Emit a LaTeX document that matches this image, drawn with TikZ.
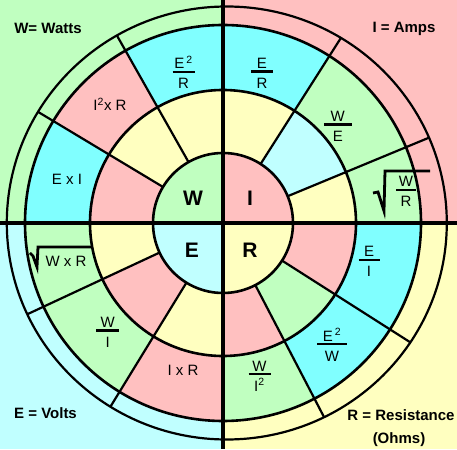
\documentclass[tikz,border=0pt]{standalone}
\usepackage{fontspec}
\setmainfont{Liberation Sans}

\definecolor{wattgreen}{HTML}{C0FFC0}
\definecolor{amppink}{HTML}{FFC0C0}
\definecolor{voltcyan}{HTML}{C0FFFF}
\definecolor{ohmyellow}{HTML}{FFFFC0}
\definecolor{cellcyan}{HTML}{80FFFF}

\tikzset{
  ring/.style={line width=2.6pt},
  spoke/.style={line width=2.2pt},
  axis/.style={line width=3.4pt},
  fracbar/.style={line width=2.6pt},
  radical/.style={line width=2.8pt, line join=miter},
  formula/.style={inner sep=0pt, font=\fontsize{15}{18}\selectfont},
  unitlabel/.style={inner sep=0pt, font=\bfseries\fontsize{15}{18}\selectfont},
  quantity/.style={inner sep=0pt, font=\bfseries\fontsize{21}{25}\selectfont}
}

% name, bar centre, bar width, numerator, denominator
\newcommand{\ohmfrac}[5]{%
  \coordinate (#1) at (#2);
  \draw[fracbar] ([xshift=-#3/2]#1) -- ([xshift=#3/2]#1);
  \node[formula, anchor=base] (#1-num) at ([yshift=3pt]#1) {#4};
  \node[formula, anchor=base] (#1-den) at ([yshift=-17pt]#1) {#5};
}

\begin{document}
\begin{tikzpicture}[x=1pt, y=1pt]
    % quadrant backgrounds
    \fill[wattgreen] (-223,0) rectangle (0,223);
    \fill[amppink] (0,0) rectangle (234,223);
    \fill[voltcyan] (-223,-226) rectangle (0,0);
    \fill[ohmyellow] (0,-226) rectangle (234,0);
    \useasboundingbox (-223,-226) rectangle (234,223);

    % cells of the two rings: from/to/outer colour/middle colour
    \foreach \a/\b/\outer/\mid in {90/119.5/cellcyan/ohmyellow, 119.5/149/amppink/ohmyellow,
        149/180/cellcyan/amppink, 57.5/90/cellcyan/ohmyellow, 22.5/57.5/wattgreen/voltcyan,
        0/22.5/wattgreen/ohmyellow, 180/205/wattgreen/ohmyellow, 205/238.5/wattgreen/amppink,
        238.5/270/amppink/ohmyellow, -90/-62.5/wattgreen/amppink, -62.5/-32.5/cellcyan/wattgreen,
        -32.5/0/cellcyan/amppink} {
      \fill[\outer] (\a:133) arc[start angle=\a, end angle=\b, radius=133]
        -- (\b:198) arc[start angle=\b, end angle=\a, radius=198] -- cycle;
      \fill[\mid] (\a:70) arc[start angle=\a, end angle=\b, radius=70]
        -- (\b:133) arc[start angle=\b, end angle=\a, radius=133] -- cycle;
    }

    % spokes
    \begin{scope}
      \clip (3.8,0) ellipse (220 and 216.5);
      \foreach \a in {119.5,149,57.5,22.5,205,238.5,-32.5,-62.5}
        \draw[spoke] (\a:70) -- (\a:230);
    \end{scope}

    % rings
    \draw[ring] (0,0) circle (70);
    \draw[ring] (0,0) circle (133);
    \draw[ring] (0,0) circle (198);
    \draw[line width=2.2pt] (3.8,0) ellipse (220 and 216.5);

    % axes
    \draw[axis] (-223,0) -- (234,0);
    \draw[axis] (0,223) -- (0,-226);

    % centre letters
    \node[quantity] (w) at (-30,25) {W};
    \node[quantity] (i) at (27,25) {I};
    \node[quantity] (e) at (-31,-27) {E};
    \node[quantity] (r) at (27,-27) {R};

    % corner labels
    \node[unitlabel, anchor=base] (watts) at (-175,189.7) {W= Watts};
    \node[unitlabel, anchor=base] (amps) at (181,190.7) {I = Amps};
    \node[unitlabel, anchor=base] (volts) at (-177.5,-195.3) {E = Volts};
    \node[unitlabel, anchor=base] (ohms) at (178,-197) {R = Resistance};
    \node[unitlabel, anchor=base] (ohmsunit) at (176,-220.3) {(Ohms)};

    % formulas
    \ohmfrac{esqr}{-39.5,151}{22}{E\hspace{2pt}\textsuperscript{2}}{R}
    \ohmfrac{er}{39,151.3}{22}{E}{R}
    \ohmfrac{we}{114.8,98.7}{28}{W}{E}
    \ohmfrac{wr}{183,33}{20}{W}{R}
    \ohmfrac{wi}{-115.3,-107.7}{23}{W}{I}
    \ohmfrac{ei}{146,-37}{21}{E}{I}
    \ohmfrac{esqw}{109,-121}{30}{E\hspace{2pt}\textsuperscript{2}}{W}
    \ohmfrac{wisq}{36.5,-151}{22}{W}{I\textsuperscript{2}}
    \node[formula, anchor=base] (isqr) at (-113,112) {I\textsuperscript{2}x R};
    \node[formula, anchor=base] (exi) at (-156,38) {E x I};
    \node[formula, anchor=base] (ixr) at (-40,-152) {I x R};
    \node[formula, anchor=base] (wxr) at (-157,-44) {W x R};

    % root signs
    \draw[radical] (150,30) -- (155,31) -- (161,12) -- (162,52) -- (207,52);
    \draw[radical] (-193,-30) -- (-190,-33) -- (-186,-44) -- (-185,-24) -- (-132,-24);
\end{tikzpicture}
\end{document}
